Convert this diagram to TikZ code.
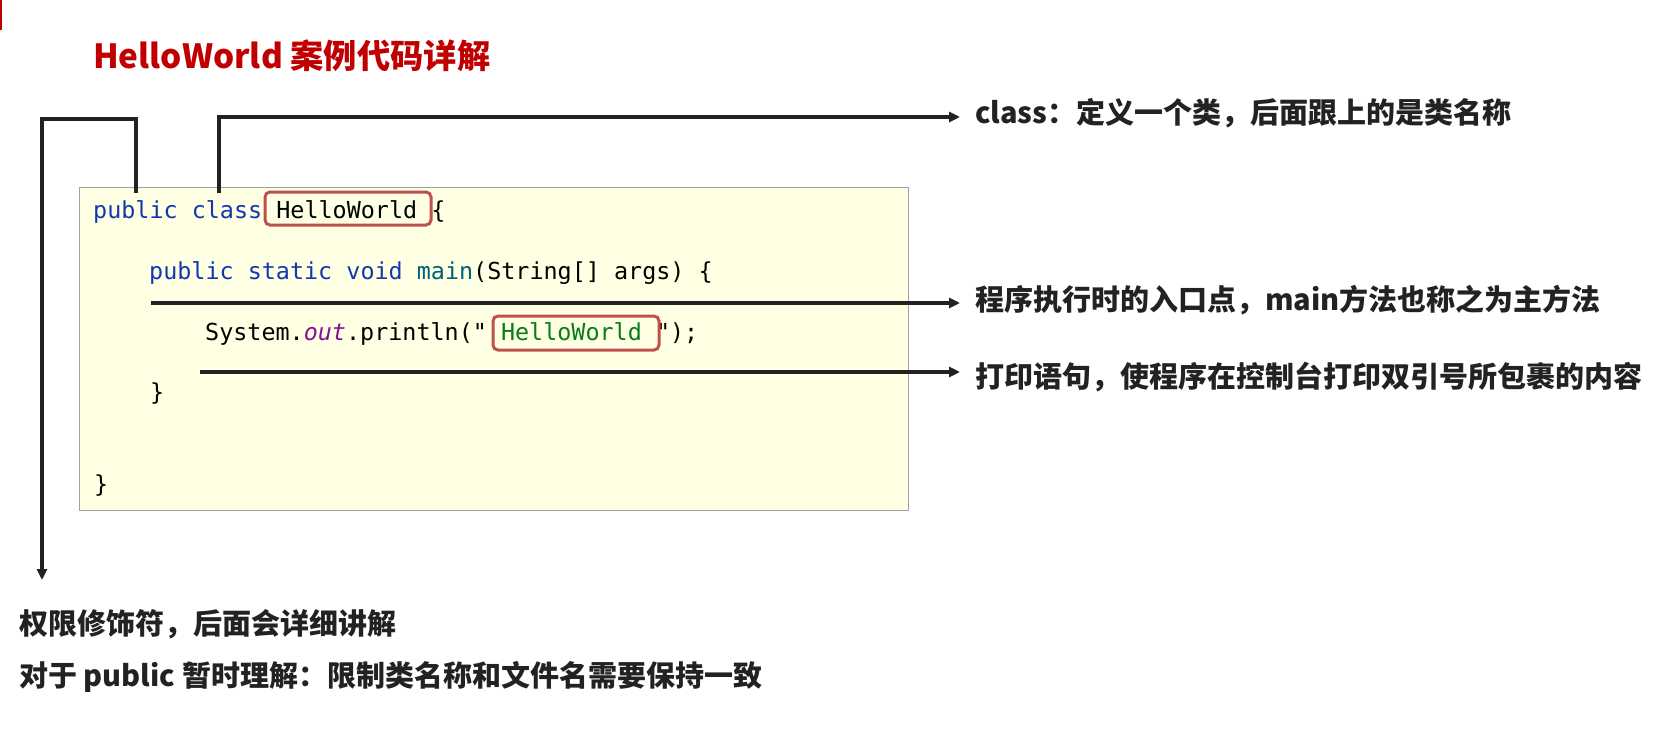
\documentclass[tikz,border=0pt]{standalone}
\usepackage{fontspec}
\usetikzlibrary{arrows.meta}
\newfontfamily\cjk{Noto Sans CJK SC}
\newfontfamily\codefont{DejaVu Sans Mono}
\definecolor{kw}{HTML}{1238B0}
\definecolor{mn}{HTML}{00627A}
\definecolor{pu}{HTML}{871094}
\definecolor{gr}{HTML}{067D17}
\definecolor{rbox}{HTML}{C0504D}
\definecolor{title}{HTML}{C00000}
\definecolor{ink}{HTML}{222222}
\definecolor{codebg}{HTML}{FFFFE3}
\definecolor{codeborder}{HTML}{A0A0A0}
\tikzset{
  ann/.style={anchor=west, inner sep=0pt, text=ink, font=\cjk\bfseries\fontsize{29}{35}\selectfont},
  code/.style={anchor=base west, inner sep=0pt, font=\codefont\fontsize{23.4}{28}\selectfont},
  conn/.style={draw=ink, line width=3.4pt},
  arr/.style={conn, -{Triangle[length=11pt,width=10pt]}},
  redbox/.style={draw=rbox, line width=3pt, rounded corners=5pt},
}
\begin{document}
\begin{tikzpicture}[x=1pt,y=-1pt]
\useasboundingbox (0,0) rectangle (1659,741);
\fill[title] (0,0) rectangle (2,30);
\node[anchor=west, inner sep=0pt, text=title, font=\cjk\bfseries\fontsize{33.3}{40}\selectfont] (title) at (93,56) {HelloWorld 案例代码详解};
% code box
\node[draw=codeborder, fill=codebg, line width=1pt, minimum width=829pt, minimum height=323pt, anchor=north west, inner sep=0pt] (codebox) at (79,187) {};
\node[code] (l1) at (93,218) {\textcolor{kw}{public class} HelloWorld \{};
\node[code] (l2) at (149,279) {\textcolor{kw}{public static void} \textcolor{mn}{main}(String[] args) \{};
\node[code] (l3) at (205,340) {System.\textcolor{pu}{\itshape out}.println("\textcolor{gr}{\ HelloWorld\ }");};
\node[code] (l4) at (150,400) {\}};
\node[code] (l5) at (94,492) {\}};
\draw[redbox] (265,192) rectangle (431,225);
\draw[redbox] (493,316) rectangle (659,350);
% annotations
\node[ann] (t1) at (975,113) {class：定义一个类，后面跟上的是类名称};
\node[ann] (t2) at (975,300) {程序执行时的入口点，main方法也称之为主方法};
\node[ann] (t3) at (975,377) {打印语句，使程序在控制台打印双引号所包裹的内容};
\node[ann] (b1) at (19,624) {权限修饰符，后面会详细讲解};
\node[ann] (b2) at (19,677) {对于 public 暂时理解：限制类名称和文件名需要保持一致};
% connectors
\coordinate (pubtop) at (136,193);
\coordinate (clstop) at (219,193);
\coordinate (mainstart) at (151,303);
\coordinate (printstart) at (200,372);
\coordinate (downend) at (42,580);
\coordinate (e1) at (960,117);
\coordinate (e2) at (960,303);
\coordinate (e3) at (960,372);
\draw[arr] (pubtop) -- (136,119) -- (42,119) -- (downend);
\draw[arr] (clstop) |- (e1);
\draw[arr] (mainstart) -- (e2);
\draw[arr] (printstart) -- (e3);
\end{tikzpicture}
\end{document}
